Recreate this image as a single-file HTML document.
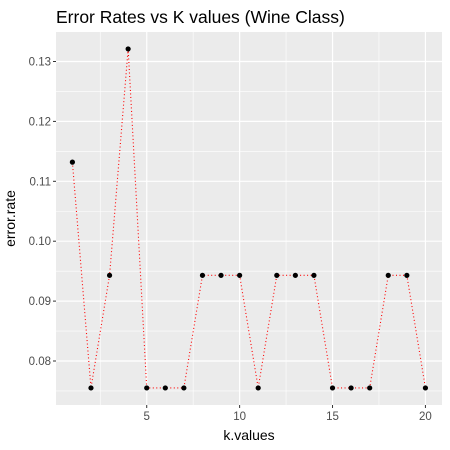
<!DOCTYPE html>
<html><head><meta charset="utf-8"><style>
body{margin:0;background:#fff;}
svg{display:block;font-family:"Liberation Sans",Arial,sans-serif;}
</style></head><body>
<svg id="chart" width="450" height="450"></svg>
<script>
const kValues=[1,2,3,4,5,6,7,8,9,10,11,12,13,14,15,16,17,18,19,20];
const errorRates=[0.1132,0.0755,0.0943,0.1321,0.0755,0.0755,0.0755,0.0943,0.0943,0.0943,0.0755,0.0943,0.0943,0.0943,0.0755,0.0755,0.0755,0.0943,0.0943,0.0755];
const xTicks=[5,10,15,20];
const yTicks=[0.08,0.09,0.10,0.11,0.12,0.13];
const yTickLabels=["0.08","0.09","0.10","0.11","0.12","0.13"];
const NS="http://www.w3.org/2000/svg";
const svg=document.getElementById('chart');
const L=56,R=442,T=32,B=405;
const xs=v=>72.4+(v-1)*18.58;
const ys=v=>61.5+(0.13-v)*5990;
function mk(tag,attrs,parent){const e=document.createElementNS(NS,tag);for(const k in attrs)e.setAttribute(k,attrs[k]);(parent||svg).appendChild(e);return e;}
const panel=mk('rect',{x:L,y:T,width:R-L,height:B-T,fill:'#ebebeb'});


for(let i=0;i<yTicks.length;i++){const v=yTicks[i]-0.005;const y=ys(v);if(y>T&&y<B){const g=mk('line',{x1:L,x2:R,y1:y,y2:y,stroke:'#fff','stroke-width':0.6});}}
{const y=ys(0.135);if(y>T){const g=mk('line',{x1:L,x2:R,y1:y,y2:y,stroke:'#fff','stroke-width':0.6});}}
for(const v of [2.5,7.5,12.5,17.5]){const x=xs(v);const g=mk('line',{x1:x,x2:x,y1:T,y2:B,stroke:'#fff','stroke-width':0.6});}
yTicks.forEach((v,i)=>{const y=ys(v);
const g=mk('line',{x1:L,x2:R,y1:y,y2:y,stroke:'#fff','stroke-width':1.2});
const t=mk('line',{x1:L-3,x2:L,y1:y,y2:y,stroke:'#333','stroke-width':1});
const tx=mk('text',{x:L-5,y:y+4,'text-anchor':'end','font-size':11.5,fill:'#4d4d4d'});tx.textContent=yTickLabels[i];});
xTicks.forEach(v=>{const x=xs(v);
const g=mk('line',{x1:x,x2:x,y1:T,y2:B,stroke:'#fff','stroke-width':1.2});
const t=mk('line',{x1:x,x2:x,y1:B,y2:B+3,stroke:'#333','stroke-width':1});
const tx=mk('text',{x:x,y:B+15,'text-anchor':'middle','font-size':11.5,fill:'#4d4d4d'});tx.textContent=v;});
const pts=kValues.map((k,i)=>xs(k)+','+ys(errorRates[i])).join(' ');
const line=mk('polyline',{points:pts,fill:'none',stroke:'red','stroke-width':1.1,'stroke-dasharray':'1,2.5'});


kValues.forEach((k,i)=>{const c=mk('circle',{cx:xs(k),cy:ys(errorRates[i]),r:2.6,fill:'#000'});

});
const title=mk('text',{x:L,y:23,'font-size':17.5,fill:'#000'});title.textContent='Error Rates vs K values (Wine Class)';


const xl=mk('text',{x:(L+R)/2,y:440,'text-anchor':'middle','font-size':14,fill:'#000'});xl.textContent='k.values';


const yl=mk('text',{x:0,y:0,'text-anchor':'middle','font-size':14,fill:'#000',transform:`translate(15,${(T+B)/2}) rotate(-90)`});yl.textContent='error.rate';


</script>
</body></html>
